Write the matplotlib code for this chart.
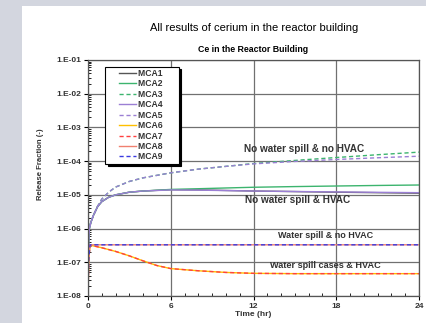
import numpy as np
import matplotlib.pyplot as plt
from matplotlib.patches import Rectangle
from matplotlib.legend_handler import HandlerLine2D
from matplotlib.ticker import FixedLocator, LogLocator, MultipleLocator, NullFormatter

plt.rcParams['font.family'] = ['Liberation Sans', 'DejaVu Sans']

# time points (hr)
t_dry = [0, 0.05, 0.1, 0.2, 0.4, 0.7, 1, 1.5, 2, 3, 4, 6, 8, 10, 12, 15, 18, 21, 24]
mca1 = [1e-8, 5e-7, 1e-6, 1.5e-6, 2.5e-6, 4.5e-6, 6.3e-6, 8.5e-6, 1.0e-5, 1.2e-5, 1.3e-5,
        1.42e-5, 1.4e-5, 1.35e-5, 1.3e-5, 1.25e-5, 1.2e-5, 1.16e-5, 1.12e-5]
mca2 = [1e-8, 5e-7, 1e-6, 1.5e-6, 2.5e-6, 4.5e-6, 6.3e-6, 8.5e-6, 1.0e-5, 1.2e-5, 1.3e-5,
        1.45e-5, 1.52e-5, 1.6e-5, 1.68e-5, 1.76e-5, 1.83e-5, 1.9e-5, 1.96e-5]
mca3 = [1e-8, 5e-7, 1e-6, 1.5e-6, 2.5e-6, 4.6e-6, 7.5e-6, 1.2e-5, 1.7e-5, 2.5e-5, 3.2e-5,
        4.5e-5, 5.8e-5, 7e-5, 8.5e-5, 1.05e-4, 1.28e-4, 1.55e-4, 1.85e-4]
mca4 = [1e-8, 5e-7, 1e-6, 1.5e-6, 2.5e-6, 4.5e-6, 6.3e-6, 8.5e-6, 1.0e-5, 1.2e-5, 1.3e-5,
        1.4e-5, 1.38e-5, 1.34e-5, 1.3e-5, 1.26e-5, 1.22e-5, 1.19e-5, 1.16e-5]
mca5 = [1e-8, 5e-7, 1e-6, 1.5e-6, 2.5e-6, 4.6e-6, 7.5e-6, 1.2e-5, 1.7e-5, 2.5e-5, 3.2e-5,
        4.5e-5, 5.8e-5, 7e-5, 8.3e-5, 9.8e-5, 1.12e-4, 1.26e-4, 1.4e-4]

t_wet = [0, 0.05, 0.15, 0.5, 1, 2, 3, 4, 5, 6, 8, 10, 12, 15, 18, 24]
mca6 = [1e-8, 1.2e-7, 3.2e-7, 3.0e-7, 2.7e-7, 2.1e-7, 1.55e-7, 1.1e-7, 8e-8, 6.5e-8,
        5.6e-8, 5e-8, 4.7e-8, 4.6e-8, 4.6e-8, 4.6e-8]
mca7 = mca6
mca8 = [1e-8, 1.2e-7, 3.3e-7, 3.3e-7, 3.3e-7, 3.3e-7, 3.3e-7, 3.3e-7, 3.3e-7, 3.3e-7,
        3.3e-7, 3.3e-7, 3.3e-7, 3.3e-7, 3.3e-7, 3.3e-7]
mca9 = mca8

series = [
    ('MCA1', t_dry, mca1, '#555555', '-'),
    ('MCA2', t_dry, mca2, '#3cb46e', '-'),
    ('MCA3', t_dry, mca3, '#3cb46e', (0, (3, 2))),
    ('MCA4', t_dry, mca4, '#9b7fd4', '-'),
    ('MCA5', t_dry, mca5, '#9b7fd4', (0, (3, 2))),
    ('MCA6', t_wet, mca6, '#ffc000', '-'),
    ('MCA7', t_wet, mca7, '#ff4040', (0, (3, 2))),
    ('MCA8', t_wet, mca8, '#f08070', '-'),
    ('MCA9', t_wet, mca9, '#3a3ae0', (0, (3, 2))),
]

# case labels: (x in hr, y, text, size)
notes = [
    (11.3, 2.3e-4, 'No water spill & no HVAC', 7.2),
    (11.4, 7.1e-6, 'No water spill & HVAC', 7.2),
    (13.8, 6.2e-7, 'Water spill & no HVAC', 6.5),
    (13.2, 7.8e-8, 'Water spill cases & HVAC', 6.6),
]


class ShortLine(HandlerLine2D):
    # legend line only in the right part of the handle box
    def get_xdata(self, legend, xdescent, ydescent, width, height, fontsize):
        xdata = np.array([-xdescent + 0.42 * width, -xdescent + width])
        return xdata, xdata[:1]


fig = plt.figure(figsize=(4.26, 3.23), dpi=100, facecolor='#d3d6df')
fig.patches.append(Rectangle((22 / 426, 0), 1, 1 - 6 / 323, transform=fig.transFigure,
                             facecolor='white', edgecolor='none', zorder=-10))
ax = fig.add_axes([88 / 426, 1 - 296 / 323, 331 / 426, 236 / 323])
ax.set_facecolor('white')

lines = []
for name, t, v, c, ls in series:
    ln, = ax.plot(t, v, color=c, linestyle=ls, lw=1.0)
    lines.append(ln)

ax.set_yscale('log')
ax.set_xlim(0, 24)
ax.set_ylim(1e-8, 1e-1)
ax.xaxis.set_major_locator(FixedLocator([0, 6, 12, 18, 24]))
ax.xaxis.set_minor_locator(MultipleLocator(1))
ax.set_yticks([10.0 ** k for k in range(-8, 0)])
ax.set_yticklabels(['1.E-%02d' % k for k in range(8, 0, -1)])
ax.yaxis.set_minor_locator(LogLocator(base=10, subs=np.arange(2, 10), numticks=20))
ax.yaxis.set_minor_formatter(NullFormatter())
ax.grid(True, which='major', color='#707070', lw=0.9)
ax.tick_params(which='major', labelsize=6, length=3, width=0.8, direction='out', pad=2)
ax.tick_params(which='minor', length=2, width=0.6, direction='in')
for lab in ax.get_xticklabels() + ax.get_yticklabels():
    lab.set_fontweight('bold')
    lab.set_color('#333333')
for s in ax.spines.values():
    s.set_color('#555555')
    s.set_linewidth(0.9)

ax.set_xlabel('Time (hr)', fontsize=6, fontweight='bold', labelpad=1, color='#333333')
ax.set_ylabel('Release Fraction (-)', fontsize=5.6, fontweight='bold', color='#333333')
ax.yaxis.set_label_coords(-0.133, 0.56)
ax.set_title('Ce in the Reactor Building', fontsize=6.3, fontweight='bold', pad=6)
fig.text(254 / 426, 1 - 28 / 323, 'All results of cerium in the reactor building',
         ha='center', va='center', fontsize=8)

for x, y, s, fs in notes:
    ax.text(x, y, s, fontsize=fs, fontweight='bold', color='#333333', va='center')

# trailing spaces give the wide right margin of the original legend box
leg = ax.legend(lines, [s[0] + '      ' for s in series],
                loc='upper left', bbox_to_anchor=(0.051, 0.972), borderaxespad=0,
                prop={'weight': 'bold', 'size': 6.2}, frameon=True, fancybox=False,
                shadow={'color': 'black', 'alpha': 1.0}, handlelength=3.4, labelspacing=0.17,
                borderpad=0.25, handletextpad=0.15,
                handler_map={plt.Line2D: ShortLine()})
leg.get_frame().set_edgecolor('black')
leg.get_frame().set_linewidth(0.8)
for txt in leg.get_texts():
    txt.set_color('#333333')

fig.savefig('out.png', dpi=100, facecolor=fig.get_facecolor())
